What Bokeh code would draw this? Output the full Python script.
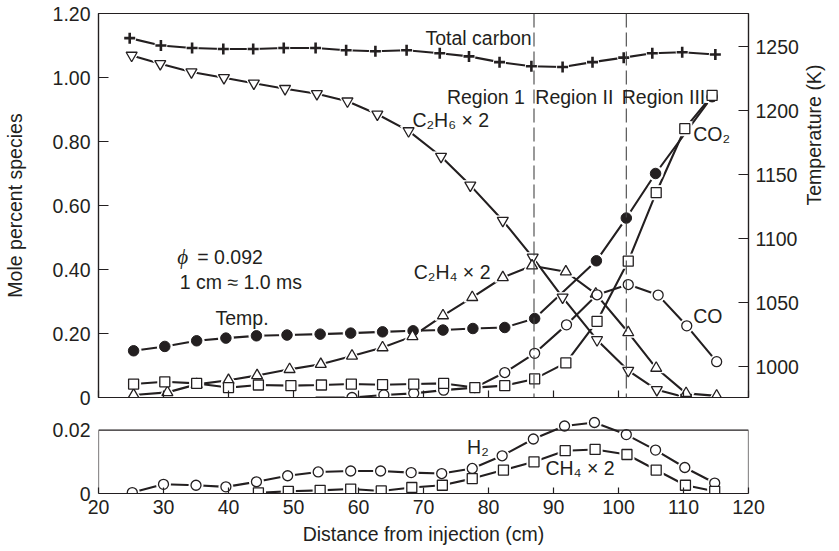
import math
from bokeh.plotting import figure
from bokeh.models import Range1d, LinearAxis, FixedTicker, Span, Label, BoxAnnotation
from bokeh.layouts import column
from bokeh.embed import file_html
from bokeh.resources import INLINE

# ---------------- data ----------------
x_ticks = [20, 30, 40, 50, 60, 70, 80, 90, 100, 110, 120]
mole_ticks = [0, 0.2, 0.4, 0.6, 0.8, 1.0, 1.2]
mole_tick_labels = ["0", "0.20", "0.40", "0.60", "0.80", "1.00", "1.20"]
temp_ticks = [1000, 1050, 1100, 1150, 1200, 1250]
small_ticks = [0, 0.02]
small_tick_labels = ["0", "0.02"]
region_bounds = [87.0, 101.2]

carbon_x = [24.8, 29.6, 34.4, 39.2, 43.8, 48.5, 53.4, 58.1, 62.6, 67.4,
            72.5, 77.0, 81.7, 86.6, 91.4, 96.0, 100.8, 105.2, 109.8, 114.9]
carbon = [1.123, 1.100, 1.092, 1.089, 1.089, 1.092, 1.092, 1.085, 1.082, 1.085,
          1.076, 1.066, 1.048, 1.035, 1.033, 1.048, 1.062, 1.076, 1.079, 1.072]

c2h6_x = [25.1, 29.5, 34.3, 39.3, 43.9, 48.7, 53.6, 58.3, 62.9, 67.7,
          72.7, 77.2, 82.2, 86.8, 91.4, 96.7, 101.5, 105.9, 110.4]
c2h6 = [1.069, 1.043, 1.017, 0.999, 0.982, 0.965, 0.949, 0.926, 0.885, 0.833,
        0.753, 0.663, 0.553, 0.438, 0.313, 0.180, 0.084, 0.024, 0.0]

c2h4_x = [25.4, 30.6, 35.1, 40.0, 44.4, 49.4, 54.2, 59.0, 63.7, 68.3,
          73.0, 77.5, 82.2, 86.7, 91.9, 96.5, 101.5, 105.8, 110.4, 115.1]
c2h4 = [0.008, 0.016, 0.041, 0.054, 0.069, 0.088, 0.104, 0.130, 0.156, 0.191,
        0.256, 0.313, 0.375, 0.412, 0.393, 0.324, 0.203, 0.092, 0.013, 0.005]

co_x = [53.4, 59.0, 63.9, 68.5, 73.1, 77.9, 82.5, 87.1, 92.0, 96.7,
        101.5, 106.1, 110.5, 115.1]
co = [0.0, 0.0, 0.008, 0.013, 0.023, 0.031, 0.078, 0.138, 0.227, 0.321,
      0.353, 0.320, 0.224, 0.112]

co2_x = [25.4, 30.2, 35.1, 40.0, 44.6, 49.6, 54.3, 58.9, 63.7, 68.5,
         73.1, 77.9, 82.5, 87.1, 91.9, 96.7, 101.5, 105.8, 110.2, 114.4]
co2 = [0.042, 0.049, 0.044, 0.031, 0.039, 0.037, 0.039, 0.042, 0.040, 0.042,
       0.044, 0.031, 0.037, 0.058, 0.108, 0.238, 0.426, 0.640, 0.840, 0.944]

temp_x = [25.4, 30.2, 35.1, 39.6, 44.3, 49.0, 54.1, 58.8, 63.7, 68.4,
          73.0, 77.6, 82.5, 87.1, 96.6, 101.2, 105.7, 114.4]
temp = [1012.5, 1015.9, 1020.3, 1022.4, 1024.2, 1024.8, 1025.5, 1026.3, 1027.3, 1028.1,
        1028.7, 1029.9, 1030.7, 1037.7, 1082.8, 1116.2, 1151.0, 1211.0]

h2_x = [25.2, 30.0, 35.0, 39.6, 44.3, 49.1, 53.8, 58.8, 63.4, 68.1,
        72.8, 77.5, 82.1, 86.9, 91.7, 96.3, 101.2, 105.7, 110.2, 114.8]
h2 = [0.0003, 0.0029, 0.0026, 0.0021, 0.0037, 0.0056, 0.0068, 0.0071, 0.0071, 0.0066,
      0.0063, 0.0079, 0.0119, 0.0172, 0.0213, 0.0224, 0.0186, 0.0137, 0.0082, 0.0033]

ch4_x = [44.6, 49.2, 54.1, 58.8, 63.5, 68.2, 72.9, 77.5, 82.3, 87.0,
         91.8, 96.4, 101.3, 105.8, 110.3, 114.8]
ch4 = [0.0002, 0.0007, 0.0010, 0.0014, 0.0008, 0.0019, 0.0026, 0.0047, 0.0074, 0.0100,
       0.0135, 0.0139, 0.0123, 0.0074, 0.0026, 0.0007]

# ---------------- styles ----------------
INK = "#231f20"
FONT = "Liberation Sans"
FS = "19.5px"


def style_text(lbl):
    lbl.text_font = FONT
    lbl.text_font_size = FS
    lbl.text_color = INK
    return lbl


def style_axis(ax):
    ax.major_label_text_font = FONT
    ax.major_label_text_font_size = FS
    ax.major_label_text_color = INK
    ax.axis_label_text_font = FONT
    ax.axis_label_text_font_size = FS
    ax.axis_label_text_color = INK
    ax.axis_label_text_font_style = "normal"
    ax.axis_line_color = INK
    ax.axis_line_width = 1.2
    ax.major_tick_line_color = INK
    ax.major_tick_line_width = 1.2
    ax.minor_tick_line_color = None
    ax.major_tick_out = 0


# ---------------- top panel ----------------
top = figure(frame_width=650, frame_height=384, x_range=Range1d(20, 120), y_range=Range1d(0, 1.2),
             output_backend="svg", toolbar_location=None,
             min_border_left=98, min_border_right=86, min_border_top=13, min_border_bottom=10)
top.extra_y_ranges = {"temp": Range1d(976, 1276)}
top.xgrid.visible = False
top.ygrid.visible = False
top.outline_line_color = INK
top.outline_line_width = 1.2

xa = top.xaxis[0]
style_axis(xa)
xa.ticker = FixedTicker(ticks=x_ticks)
xa.major_tick_in = 7
xa.major_label_text_color = None
xa.major_label_text_font_size = "1px"
xa.major_label_standoff = 0

ya = top.yaxis[0]
style_axis(ya)
ya.ticker = FixedTicker(ticks=mole_ticks)
ya.major_label_overrides = {t: s for t, s in zip(mole_ticks, mole_tick_labels)}
ya.major_tick_in = 10
ya.major_label_standoff = 8
ya.axis_label = "Mole percent species"
ya.axis_label_standoff = 24

ra = LinearAxis(y_range_name="temp", ticker=FixedTicker(ticks=temp_ticks),
                axis_label="Temperature (K)")
style_axis(ra)
ra.major_tick_in = 10
ra.major_label_standoff = 7
ra.axis_label_standoff = 12
ra.axis_label_orientation = math.pi / 2
top.add_layout(ra, "right")

for b in region_bounds:
    top.add_layout(Span(location=b, dimension="height", line_color="#444444",
                        line_width=1.1, line_dash="14 5"))

LW = 2.1
top.line(carbon_x, carbon, line_width=LW, color=INK)
top.line(c2h6_x, c2h6, line_width=LW, color=INK)
top.line(c2h4_x, c2h4, line_width=LW, color=INK)
top.line(co_x, co, line_width=LW, color=INK)
top.line(co2_x, co2, line_width=LW, color=INK)
top.line(temp_x, temp, line_width=LW, color=INK, y_range_name="temp")

# white halos give the small gaps around markers
H = dict(fill_color="white", line_color="white", line_width=1)
top.scatter(carbon_x, carbon, marker="circle", size=12, **H)
top.scatter(c2h6_x, c2h6, marker="inverted_triangle", size=16, **H)
top.scatter(c2h4_x, c2h4, marker="triangle", size=16, **H)
top.scatter(co_x[1:], co[1:], marker="circle", size=14, **H)
top.scatter(co2_x, co2, marker="square", size=14, **H)
top.scatter(temp_x, temp, marker="circle", size=15, y_range_name="temp", **H)

top.scatter(temp_x, temp, marker="circle", size=10.5, fill_color=INK, line_color=INK,
            y_range_name="temp")
top.scatter(carbon_x, carbon, marker="cross", size=11, line_color=INK, line_width=2.6)
M = dict(fill_color="white", line_color=INK, line_width=1.3)
top.scatter(c2h6_x, c2h6, marker="inverted_triangle", size=11, **M)
top.scatter(c2h4_x, c2h4, marker="triangle", size=11, **M)
top.scatter(co_x[1:], co[1:], marker="circle", size=10, **M)
top.scatter(co2_x, co2, marker="square", size=10, **M)

for lbl in [
    Label(x=70.3, y=1.122, text="Total carbon"),
    Label(x=73.6, y=0.939, text="Region 1"),
    Label(x=87.2, y=0.939, text="Region II"),
    Label(x=100.5, y=0.939, text="Region III"),
    Label(x=68.3, y=0.866, text="C₂H₆ × 2"),
    Label(x=111.5, y=0.825, text="CO₂"),
    Label(x=68.5, y=0.391, text="C₂H₄ × 2"),
    Label(x=111.5, y=0.256, text="CO"),
    Label(x=38.0, y=0.250, text="Temp."),
    Label(x=35.2, y=0.438, text="= 0.092"),
    Label(x=32.5, y=0.360, text="1 cm ≈ 1.0 ms"),
]:
    lbl.text_baseline = "middle"
    top.add_layout(style_text(lbl))

phi = Label(x=32.1, y=0.438, text="ϕ", text_baseline="middle")
style_text(phi)
phi.text_font = "Liberation Serif"
phi.text_font_style = "italic"
phi.text_font_size = "21px"
top.add_layout(phi)

# ---------------- bottom panel ----------------
bot = figure(frame_width=650, frame_height=77, x_range=top.x_range, y_range=Range1d(0, 0.0243),
             output_backend="svg", toolbar_location=None,
             min_border_left=98, min_border_right=86, min_border_top=9, min_border_bottom=56)
bot.xgrid.visible = False
bot.ygrid.visible = False
bot.outline_line_color = None

bx = bot.xaxis[0]
style_axis(bx)
bx.ticker = FixedTicker(ticks=x_ticks)
bx.major_tick_in = 6
bx.major_label_standoff = 6
bx.axis_label = "Distance from injection (cm)"
bx.axis_label_standoff = 6

by = bot.yaxis[0]
style_axis(by)
by.ticker = FixedTicker(ticks=small_ticks)
by.major_label_overrides = {t: s for t, s in zip(small_ticks, small_tick_labels)}
by.major_tick_line_color = None
by.axis_line_color = None
by.major_label_standoff = 8

bot.add_layout(BoxAnnotation(left=20, right=120, bottom=0, top=0.02, fill_alpha=0,
                             line_color=INK, line_width=1.2, line_alpha=1))

bot.line(h2_x, h2, line_width=LW, color=INK)
bot.line(ch4_x, ch4, line_width=LW, color=INK)
bot.scatter(h2_x, h2, marker="circle", size=14, **H)
bot.scatter(ch4_x, ch4, marker="square", size=14, **H)
bot.scatter(h2_x, h2, marker="circle", size=10, **M)
bot.scatter(ch4_x, ch4, marker="square", size=10, **M)

for lbl in [Label(x=76.7, y=0.0147, text="H₂"), Label(x=88.75, y=0.0079, text="CH₄ × 2")]:
    lbl.text_baseline = "middle"
    bot.add_layout(style_text(lbl))

layout = column(top, bot, spacing=0)
open("out.html", "w").write(file_html(layout, INLINE))
